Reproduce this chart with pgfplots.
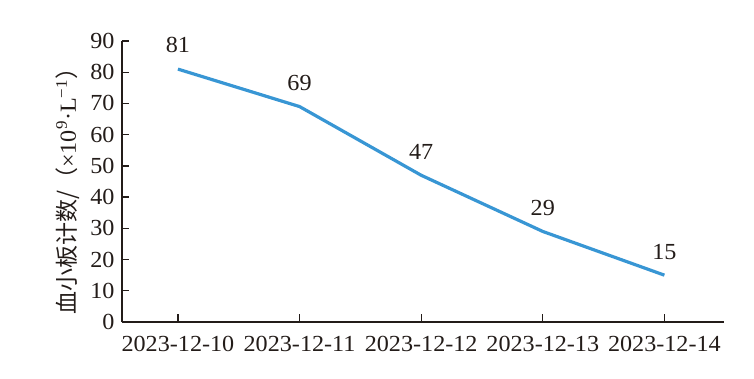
\documentclass[border=0pt]{standalone}
\usepackage{fontspec}
\setmainfont[FakeStretch=1.05]{Liberation Serif}
\newfontfamily\cjk{Noto Sans CJK SC}
\usepackage{pgfplots}
\pgfplotsset{compat=1.18}
\definecolor{axcol}{RGB}{35,28,25}
\definecolor{linecol}{RGB}{56,150,212}
\begin{document}
\begin{tikzpicture}
\useasboundingbox (-122bp,-57bp) rectangle (632bp,322bp);
\begin{axis}[
  at={(0,0)}, anchor=south west,
  scale only axis,
  width=602bp, height=281bp,
  xmin=-0.46, xmax=4.49,
  ymin=0, ymax=90,
  xtick={0,1,2,3,4},
  xticklabels={2023-12-10,2023-12-11,2023-12-12,2023-12-13,2023-12-14},
  ytick={0,10,20,30,40,50,60,70,80,90},
  axis x line*=bottom, axis y line*=left,
  axis line style={axcol, line width=1.6bp, -},
  tick style={axcol, line width=1.3bp},
  tick align=inside,
  major tick length=7.5bp,
  font=\fontsize{23bp}{27bp}\selectfont,
  ticklabel style={font=\fontsize{23bp}{27bp}\selectfont, text=axcol},
  /pgf/number format/assume math mode=true,
  yticklabel style={xshift=-4bp},
  xticklabel style={yshift=-11bp},
  ylabel={{\cjk 血小板计数/（}×10\textsuperscript{9}·L\textsuperscript{−1}{\cjk ）}},
  every axis y label/.style={at={(axis description cs:-0.0897,0.485)}, rotate=90, anchor=center, font=\fontsize{23bp}{26bp}\selectfont, text=axcol},
  clip=false,
  nodes near coords,
  every node near coord/.append style={anchor=south, yshift=11bp, font=\fontsize{23bp}{27bp}\selectfont, text=axcol},
]
\addplot[linecol, line width=3.2bp] coordinates {(0,81) (1,69) (2,47) (3,29) (4,15)};
\end{axis}
\end{tikzpicture}
\end{document}
